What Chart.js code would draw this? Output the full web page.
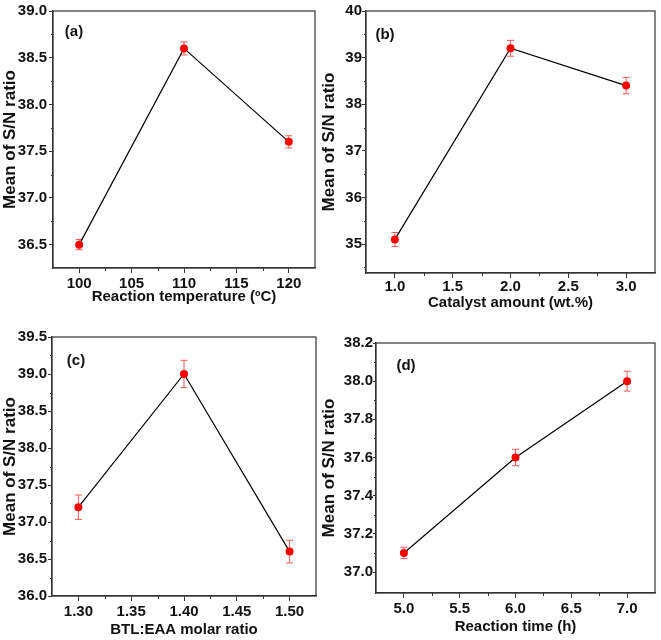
<!DOCTYPE html>
<html>
<head>
<meta charset="utf-8">
<script src="https://cdn.jsdelivr.net/npm/chart.js@4.4.1/dist/chart.umd.min.js"></script>
<style>
  body { margin: 0; background: #fff; }
  #wrap { position: relative; width: 661px; height: 640px; }
  canvas { position: absolute; }
</style>
</head>
<body>
<div id="wrap">
  <canvas id="chartA" width="330" height="320" style="left:0;top:0"></canvas>
  <canvas id="chartB" width="343" height="320" style="left:318px;top:0"></canvas>
  <canvas id="chartC" width="330" height="320" style="left:0;top:320px"></canvas>
  <canvas id="chartD" width="343" height="320" style="left:318px;top:320px"></canvas>
</div>
<script>
// (a) reaction temperature
var tempX = [100, 110, 120];
var tempSN = [36.5, 38.6, 37.6];
var tempErr = [0.055, 0.07, 0.065];
var tempXTicks = [100, 105, 110, 115, 120];
var tempYTicks = [36.5, 37.0, 37.5, 38.0, 38.5, 39.0];

// (b) catalyst amount
var catX = [1.0, 2.0, 3.0];
var catSN = [35.1, 39.2, 38.4];
var catErr = [0.15, 0.17, 0.175];
var catXTicks = [1.0, 1.5, 2.0, 2.5, 3.0];
var catYTicks = [35, 36, 37, 38, 39, 40];

// (c) BTL:EAA molar ratio
var ratioX = [1.30, 1.40, 1.50];
var ratioSN = [37.2, 39.0, 36.6];
var ratioErr = [0.165, 0.185, 0.153];
var ratioXTicks = [1.30, 1.35, 1.40, 1.45, 1.50];
var ratioYTicks = [36.0, 36.5, 37.0, 37.5, 38.0, 38.5, 39.0, 39.5];

// (d) reaction time
var timeX = [5.0, 6.0, 7.0];
var timeSN = [37.1, 37.6, 38.0];
var timeErr = [0.03, 0.043, 0.052];
var timeXTicks = [5.0, 5.5, 6.0, 6.5, 7.0];
var timeYTicks = [37.0, 37.2, 37.4, 37.6, 37.8, 38.0, 38.2];

var fontFam = "'Liberation Sans', Arial, Helvetica, sans-serif";
var axisColor = "#333";

// error bars, frame, minor ticks and the panel tag
var panelExtras = {
    id: "panelExtras",
    beforeDatasetsDraw: function (chart, args, opts) {
        var ctx = chart.ctx;
        var xs = chart.scales.x, ys = chart.scales.y;
        var ds = chart.data.datasets[0];
        ctx.save();
        ctx.strokeStyle = "#f25a5a";
        ctx.lineWidth = 1;
        ds.data.forEach(function (p, i) {
            var px = xs.getPixelForValue(p.x);
            var top = ys.getPixelForValue(p.y + opts.err[i]);
            var bot = ys.getPixelForValue(p.y - opts.err[i]);
            ctx.beginPath();
            ctx.moveTo(px, top); ctx.lineTo(px, bot);
            ctx.moveTo(px - 3.5, top); ctx.lineTo(px + 3.5, top);
            ctx.moveTo(px - 3.5, bot); ctx.lineTo(px + 3.5, bot);
            ctx.stroke();
        });
        ctx.restore();
    },
    afterDraw: function (chart, args, opts) {
        var ctx = chart.ctx;
        var a = chart.chartArea;
        var xs = chart.scales.x, ys = chart.scales.y;
        ctx.save();
        ctx.strokeStyle = axisColor;
        ctx.lineWidth = 1.2;
        ctx.strokeRect(a.left, a.top, a.right - a.left, a.bottom - a.top);

        // minor ticks halfway between the majors
        ctx.lineWidth = 1;
        ctx.beginPath();
        minorValues(opts.xTicks, xs.min, xs.max).forEach(function (v) {
            var px = Math.round(xs.getPixelForValue(v)) + 0.5;
            ctx.moveTo(px, a.bottom); ctx.lineTo(px, a.bottom + 3);
        });
        minorValues(opts.yTicks, ys.min, ys.max).forEach(function (v) {
            var py = Math.round(ys.getPixelForValue(v)) + 0.5;
            ctx.moveTo(a.left, py); ctx.lineTo(a.left - 2, py);
        });
        ctx.stroke();

        ctx.fillStyle = "#111";
        ctx.font = "bold 15px " + fontFam;
        ctx.textAlign = "center";
        ctx.textBaseline = "middle";
        ctx.fillText(opts.tag, a.left + opts.tagDx, a.top + opts.tagDy);
        ctx.restore();
    }
};

function minorValues(ticks, min, max) {
    var step = ticks[1] - ticks[0];
    var out = [];
    var v = ticks[0] - step / 2;
    for (var i = 0; i <= ticks.length; i++) {
        var m = v + i * step;
        if (m > min + step * 0.05 && m < max - step * 0.05) out.push(m);
    }
    return out;
}

function makePanel(p) {
    var points = p.xs.map(function (x, i) { return { x: x, y: p.ys[i] }; });
    return new Chart(document.getElementById(p.id), {
        type: "line",
        data: {
            datasets: [{
                data: points,
                borderColor: "#000",
                borderWidth: 1.2,
                pointRadius: 4,
                pointBackgroundColor: "#ff0000",
                pointBorderColor: "#ff0000",
                pointBorderWidth: 0,
                tension: 0
            }]
        },
        options: {
            responsive: false,
            animation: false,
            layout: { padding: { left: 0, top: p.padTop, right: p.padRight, bottom: 0 } },
            plugins: {
                legend: { display: false },
                tooltip: { enabled: false },
                panelExtras: {
                    err: p.err, tag: p.tag, tagDx: p.tagDx, tagDy: p.tagDy,
                    xTicks: p.xTicks, yTicks: p.yTicks
                }
            },
            scales: {
                x: {
                    type: "linear",
                    min: p.xMin, max: p.xMax,
                    afterBuildTicks: function (s) {
                        s.ticks = p.xTicks.map(function (v) { return { value: v }; });
                    },
                    afterFit: function (s) { s.height = p.xH; },
                    grid: { drawOnChartArea: false, tickLength: 5, tickColor: axisColor },
                    border: { color: axisColor, width: 1.2 },
                    ticks: {
                        padding: p.xTickPad,
                        maxRotation: 0,
                        color: "#111",
                        font: { family: fontFam, size: 15, weight: "bold" },
                        callback: function (v) { return v.toFixed(p.xDec); }
                    },
                    title: {
                        display: true, text: p.xTitle, color: "#111",
                        padding: { top: 0, bottom: p.xTitlePad },
                        font: { family: fontFam, size: 15, weight: "bold" }
                    }
                },
                y: {
                    min: p.yMin, max: p.yMax,
                    afterBuildTicks: function (s) {
                        s.ticks = p.yTicks.map(function (v) { return { value: v }; });
                    },
                    afterFit: function (s) { s.width = p.yW; },
                    grid: { drawOnChartArea: false, tickLength: p.yTickLen, tickColor: axisColor },
                    border: { color: axisColor, width: 1.2 },
                    ticks: {
                        padding: p.yTickPad,
                        color: "#111",
                        font: { family: fontFam, size: 15, weight: "bold" },
                        callback: function (v) { return v.toFixed(p.yDec); }
                    },
                    title: {
                        display: true, text: "Mean of S/N ratio", color: "#111",
                        padding: { top: p.yTitlePad, bottom: 0 },
                        font: { family: fontFam, size: 17, weight: "bold" }
                    }
                }
            }
        },
        plugins: [panelExtras]
    });
}

makePanel({
    id: "chartA", xs: tempX, ys: tempSN, err: tempErr, tag: "(a)", tagDx: 21, tagDy: 21,
    xTicks: tempXTicks, yTicks: tempYTicks, xMin: 97.5, xMax: 122.5, yMin: 36.25, yMax: 39.0,
    xDec: 0, yDec: 1, xTitle: "Reaction temperature (\u00BAC)",
    padTop: 11, padRight: 15, yW: 53, xH: 52,
    xTickPad: 2, xTitlePad: 14, yTickLen: 4, yTickPad: 2, yTitlePad: 0
});

makePanel({
    id: "chartB", xs: catX, ys: catSN, err: catErr, tag: "(b)", tagDx: 19, tagDy: 24,
    xTicks: catXTicks, yTicks: catYTicks, xMin: 0.75, xMax: 3.25, yMin: 34.38, yMax: 40,
    xDec: 1, yDec: 0, xTitle: "Catalyst amount (wt.%)",
    padTop: 11, padRight: 6, yW: 48, xH: 47,
    xTickPad: 0, xTitlePad: 8, yTickLen: 4, yTickPad: 0, yTitlePad: 1
});

makePanel({
    id: "chartC", xs: ratioX, ys: ratioSN, err: ratioErr, tag: "(c)", tagDx: 24, tagDy: 24,
    xTicks: ratioXTicks, yTicks: ratioYTicks, xMin: 1.275, xMax: 1.525, yMin: 36.0, yMax: 39.5,
    xDec: 2, yDec: 1, xTitle: "BTL:EAA molar ratio",
    padTop: 17, padRight: 14, yW: 52, xH: 44,
    xTickPad: 2, xTitlePad: 1, yTickLen: 4, yTickPad: 1, yTitlePad: 0
});

makePanel({
    id: "chartD", xs: timeX, ys: timeSN, err: timeErr, tag: "(d)", tagDx: 30, tagDy: 23,
    xTicks: timeXTicks, yTicks: timeYTicks, xMin: 4.75, xMax: 7.25, yMin: 36.89, yMax: 38.2,
    xDec: 1, yDec: 1, xTitle: "Reaction time (h)",
    padTop: 23, padRight: 6, yW: 58, xH: 47,
    xTickPad: 2, xTitlePad: 4, yTickLen: 3, yTickPad: 0, yTitlePad: 1
});
</script>
</body>
</html>
